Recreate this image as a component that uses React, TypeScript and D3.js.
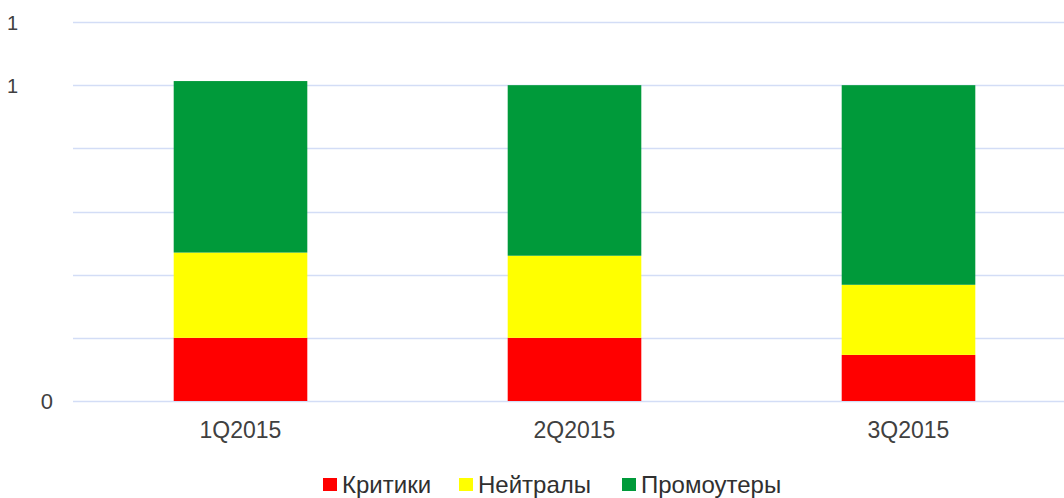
import React from 'react'
import * as d3 from 'd3'

const quarters = ['1Q2015', '2Q2015', '3Q2015']
const seriesNames = ['Критики', 'Нейтралы', 'Промоутеры']
const critics = [0.2, 0.2, 0.146]
const neutrals = [0.27, 0.26, 0.222]
const promoters = [0.543, 0.54, 0.632]
const gridTicks = [0, 0.2, 0.4, 0.6, 0.8, 1, 1.2]
const tickLabels: { value: number; label: string }[] = [
  { value: 0, label: '0' },
  { value: 1, label: '1' },
  { value: 1.2, label: '1' }
]
const colors = ['#ff0000', '#ffff00', '#009a3a']

const W = 1064
const H = 498

export default function App() {
  const x = d3.scaleBand<string>().domain(quarters).range([73.5, 1075.5]).paddingInner(0.6).paddingOuter(0.3)
  const y = d3.scaleLinear().domain([0, 1.2]).range([401, 22])

  const rows = quarters.map((q, i) => ({
    q,
    [seriesNames[0]]: critics[i],
    [seriesNames[1]]: neutrals[i],
    [seriesNames[2]]: promoters[i]
  }))
  const stacked = d3.stack<any>().keys(seriesNames)(rows)

  // позиции маркеров легенды
  const legendX = [323, 459, 622]

  return (
    <svg width={W} height={H} style={{ position: 'absolute', left: 0, top: 0, background: '#fff' }}
      fontFamily="'Liberation Sans', Arial, sans-serif">
      {gridTicks.map(t => (
        <line key={t} x1={73} x2={W} y1={Math.round(y(t)) + 0.5} y2={Math.round(y(t)) + 0.5}
          stroke="#d3ddf6" strokeWidth={1.5} />
      ))}
      {tickLabels.map(t => (
        <text key={t.value} x={t.value === 0 ? 53 : 18} y={y(t.value) + 8} textAnchor="end"
          fontSize={t.value === 0 ? 22 : 20} fill="#404040" fontWeight={t.value === 0 ? 400 : 100}>
          {t.label}
        </text>
      ))}
      {stacked.map((s, si) => (
        <g key={s.key} fill={colors[si]}>
          {s.map((d, i) => (
            <rect key={i} x={x(quarters[i])} width={x.bandwidth()} y={y(d[1])} height={y(d[0]) - y(d[1])} />
          ))}
        </g>
      ))}
      {quarters.map(q => (
        <text key={q} x={(x(q) ?? 0) + x.bandwidth() / 2} y={438} textAnchor="middle" fontSize={23} fill="#404040">
          {q}
        </text>
      ))}
      {seriesNames.map((n, i) => (
        <g key={n} transform={`translate(${legendX[i]},0)`}>
          <rect x={0} y={478} width={14} height={13} fill={colors[i]} />
          <text x={19} y={493} fontSize={24} fill="#303030">{n}</text>
        </g>
      ))}
    </svg>
  )
}
